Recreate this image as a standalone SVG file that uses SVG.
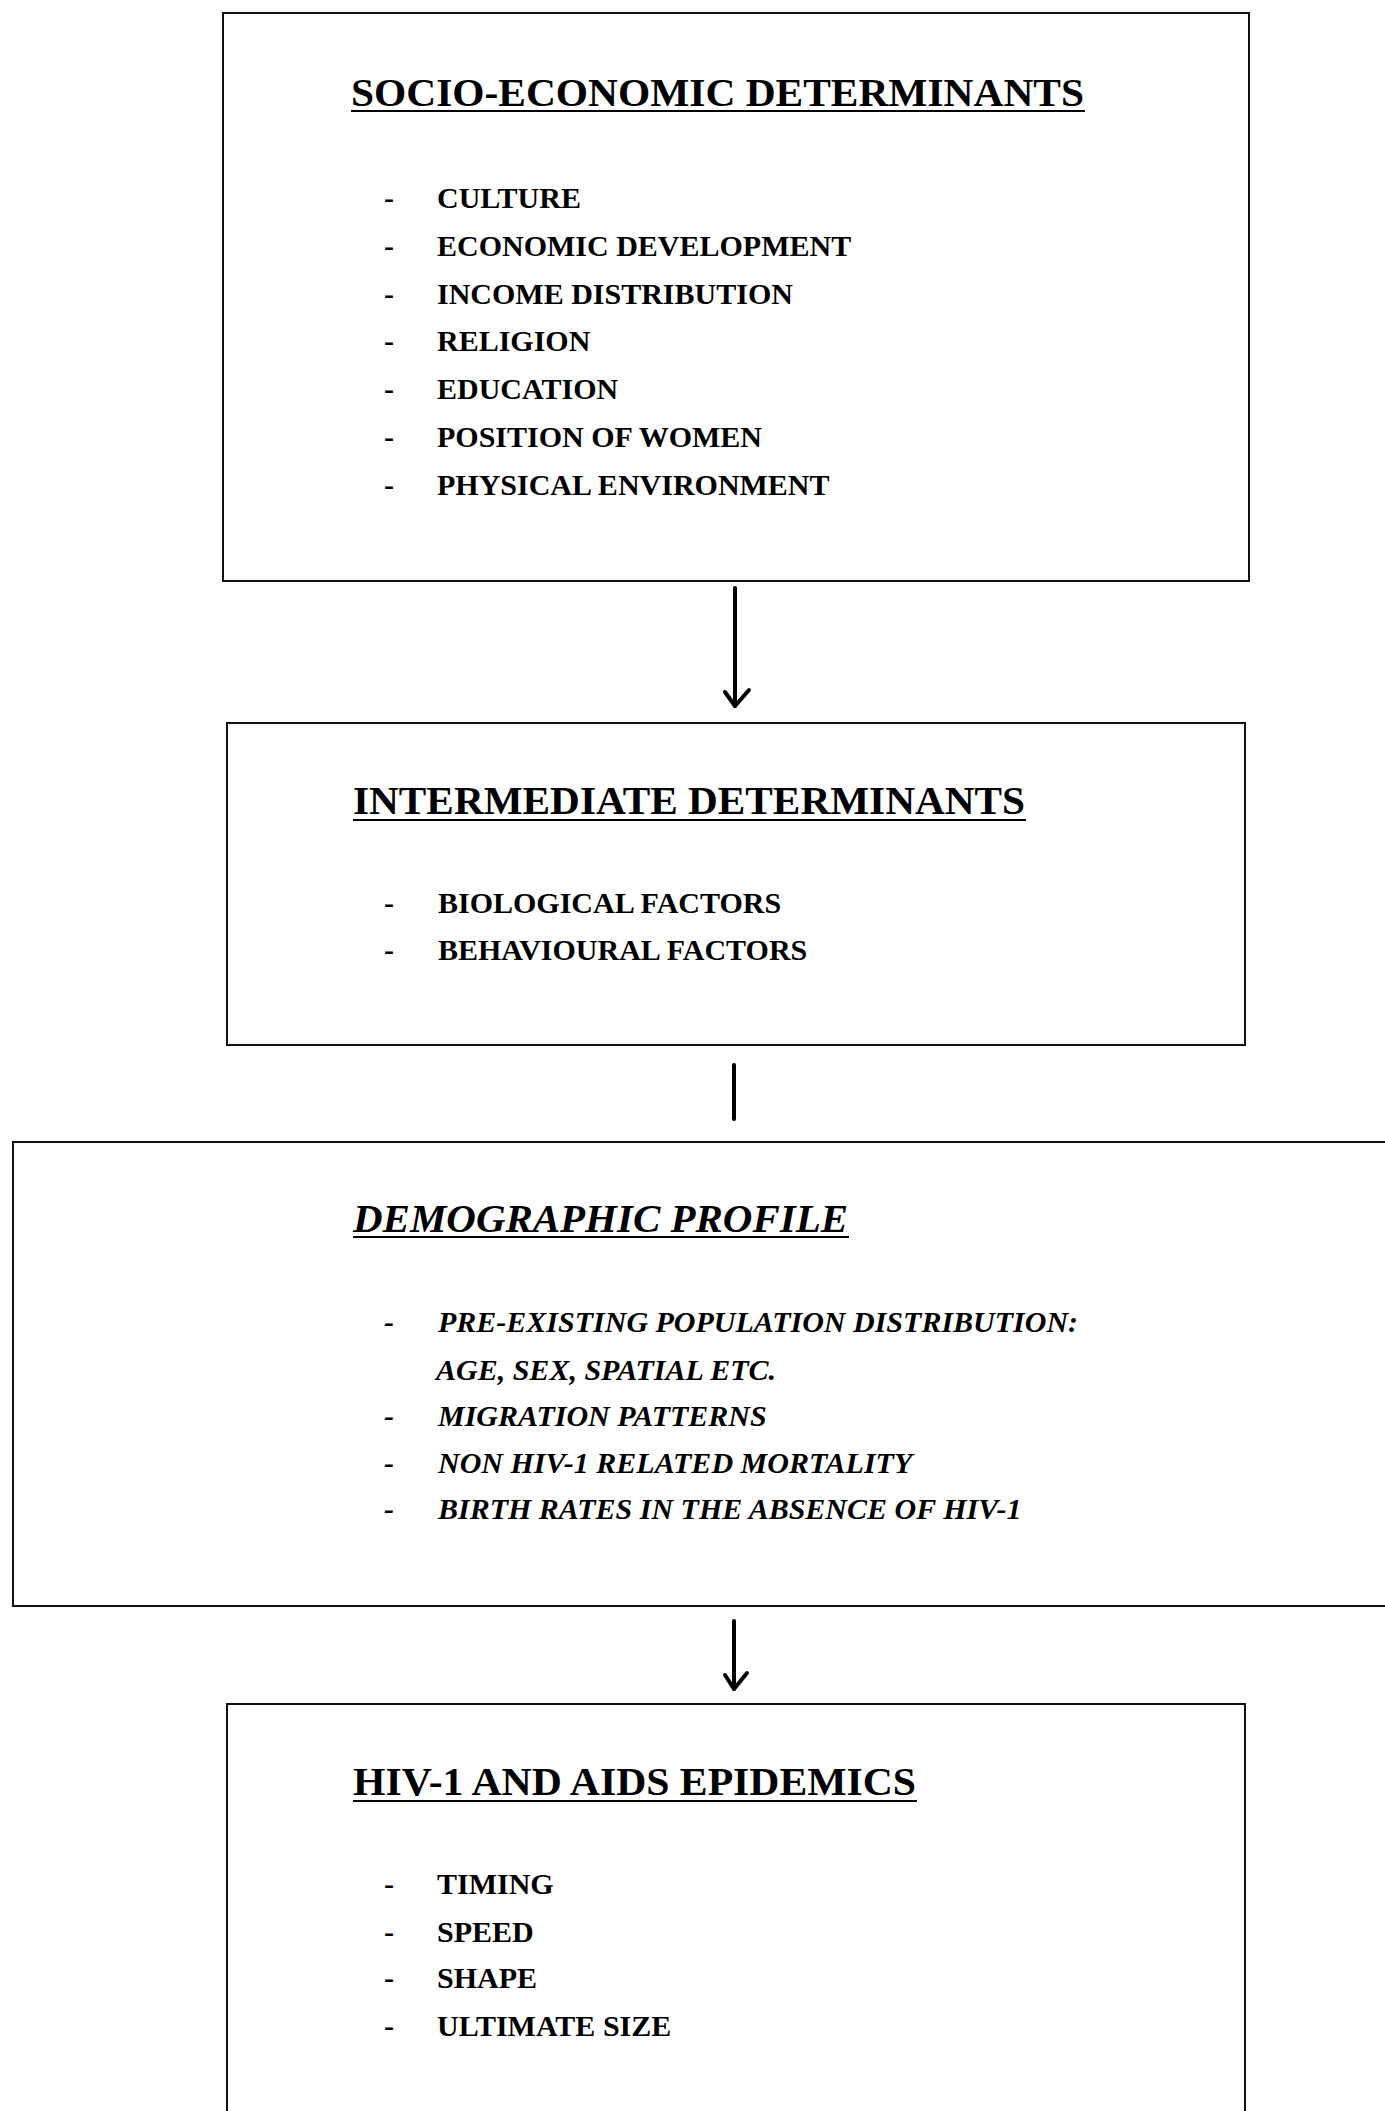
<svg xmlns="http://www.w3.org/2000/svg" width="1385" height="2111" viewBox="0 0 1385 2111">
<style>
.box{fill:none;stroke:#111;stroke-width:2}
.title{font-family:"Liberation Serif","Times New Roman",serif;font-weight:bold;font-size:41px;fill:#000}
.item{font-family:"Liberation Serif","Times New Roman",serif;font-weight:bold;font-size:30px;fill:#000}
.it{font-style:italic}
.ul{stroke:#000;stroke-width:2}
.conn{stroke:#000;stroke-width:4;fill:none;stroke-linecap:round;stroke-linejoin:round}
</style>
<rect width="1385" height="2111" fill="#fff"/>
<g id="socio-economic">
<rect class="box" x="223" y="13" width="1026" height="568"/>
<text class="title" x="351" y="106" textLength="733" lengthAdjust="spacingAndGlyphs">SOCIO-ECONOMIC DETERMINANTS</text>
<line class="ul" x1="351" y1="111" x2="1085" y2="111"/>
<g class="item">
<text x="384" y="208">-</text><text x="437" y="208">CULTURE</text>
<text x="384" y="256">-</text><text x="437" y="256">ECONOMIC DEVELOPMENT</text>
<text x="384" y="304">-</text><text x="437" y="304">INCOME DISTRIBUTION</text>
<text x="384" y="351">-</text><text x="437" y="351">RELIGION</text>
<text x="384" y="399">-</text><text x="437" y="399">EDUCATION</text>
<text x="384" y="447">-</text><text x="437" y="447">POSITION OF WOMEN</text>
<text x="384" y="495">-</text><text x="437" y="495">PHYSICAL ENVIRONMENT</text>
</g>
</g>
<g id="intermediate">
<rect class="box" x="227" y="723" width="1018" height="322"/>
<text class="title" x="353" y="814" textLength="672" lengthAdjust="spacingAndGlyphs">INTERMEDIATE DETERMINANTS</text>
<line class="ul" x1="353" y1="820" x2="1026" y2="820"/>
<g class="item">
<text x="384" y="913">-</text><text x="438" y="913">BIOLOGICAL FACTORS</text>
<text x="384" y="960">-</text><text x="438" y="960">BEHAVIOURAL FACTORS</text>
</g>
</g>
<g id="demographic">
<rect class="box" x="13" y="1142" width="1400" height="464"/>
<text class="title it" x="353" y="1232" textLength="495" lengthAdjust="spacingAndGlyphs">DEMOGRAPHIC PROFILE</text>
<line class="ul" x1="353" y1="1237" x2="849" y2="1237"/>
<g class="item it">
<text x="384" y="1332">-</text><text x="438" y="1332">PRE-EXISTING POPULATION DISTRIBUTION:</text>
<text x="436" y="1380">AGE, SEX, SPATIAL ETC.</text>
<text x="384" y="1426">-</text><text x="438" y="1426">MIGRATION PATTERNS</text>
<text x="384" y="1473">-</text><text x="438" y="1473">NON HIV-1 RELATED MORTALITY</text>
<text x="384" y="1519">-</text><text x="438" y="1519">BIRTH RATES IN THE ABSENCE OF HIV-1</text>
</g>
</g>
<g id="hiv-aids">
<rect class="box" x="227" y="1704" width="1018" height="420"/>
<text class="title" x="353" y="1795" textLength="563" lengthAdjust="spacingAndGlyphs">HIV-1 AND AIDS EPIDEMICS</text>
<line class="ul" x1="353" y1="1801" x2="917" y2="1801"/>
<g class="item">
<text x="384" y="1894">-</text><text x="437" y="1894">TIMING</text>
<text x="384" y="1942">-</text><text x="437" y="1942">SPEED</text>
<text x="384" y="1988">-</text><text x="437" y="1988">SHAPE</text>
<text x="384" y="2036">-</text><text x="437" y="2036">ULTIMATE SIZE</text>
</g>
</g>
<g id="connectors">
<line class="conn" x1="735" y1="588" x2="735" y2="706"/>
<polyline class="conn" points="725,692 735,706 749,690"/>
<line class="conn" x1="734" y1="1065" x2="734" y2="1119"/>
<line class="conn" x1="734" y1="1621" x2="734" y2="1689"/>
<polyline class="conn" points="725,1675 734,1689 747,1673"/>
</g>
</svg>
